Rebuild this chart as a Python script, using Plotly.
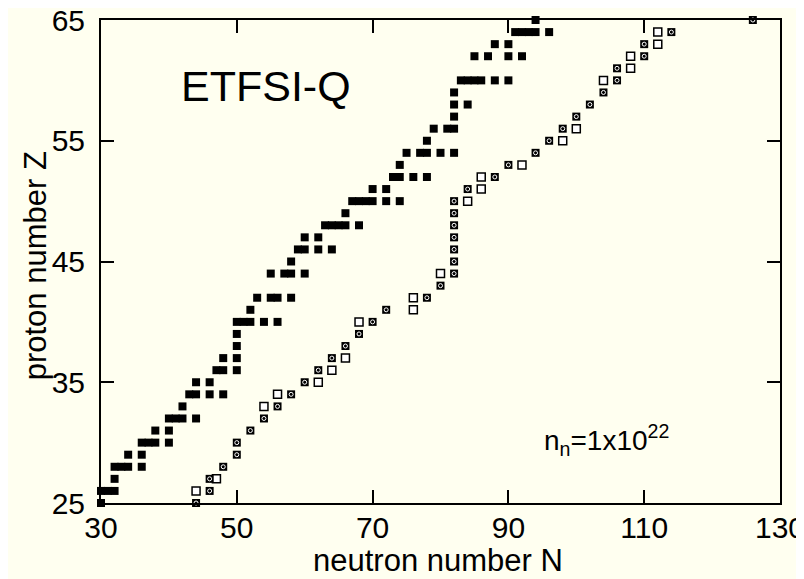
import plotly.graph_objects as go

# Filled squares (neutron number N, proton number Z)
filled_Z = [25,
            26, 26, 26,
            27,
            28, 28, 28, 28,
            29, 29,
            30, 30, 30, 30,
            31, 31,
            32, 32, 32, 32,
            33,
            34, 34, 34, 34,
            35, 35,
            36, 36, 36,
            37, 37,
            38,
            39,
            40, 40, 40, 40, 40,
            41,
            42, 42, 42, 42,
            44, 44, 44, 44,
            45,
            46, 46, 46, 46,
            47, 47,
            48, 48, 48, 48, 48,
            49,
            50, 50, 50, 50, 50, 50,
            51, 51,
            52, 52, 52, 52,
            53,
            54, 54, 54, 54, 54,
            55,
            56, 56, 56,
            57,
            58, 58,
            59,
            60, 60, 60, 60, 60, 60,
            62, 62, 62, 62,
            63, 63,
            64, 64, 64, 64, 64,
            65]
filled_N = [30,
            30, 31, 32,
            32,
            32, 33, 34, 36,
            34, 36,
            36, 37, 38, 40,
            38, 40,
            40, 41, 42, 44,
            42,
            43, 44, 46, 48,
            44, 46,
            47, 48, 50,
            48, 50,
            50,
            50,
            50, 51, 52, 54, 56,
            52,
            53, 55, 56, 58,
            55, 57, 58, 60,
            58,
            59, 60, 62, 64,
            60, 62,
            63, 64, 65, 66, 68,
            66,
            67, 68, 69, 70, 72, 74,
            70, 72,
            73, 74, 76, 78,
            74,
            75, 77, 78, 80, 82,
            78,
            79, 81, 82,
            82,
            82, 84,
            82,
            83, 84, 85, 86, 88, 90,
            85, 87, 90, 92,
            88, 90,
            91, 92, 93, 94, 96,
            94]

# Crossed squares
crossed_Z = [25, 26, 27, 28, 29, 30, 31, 32, 33, 34, 35, 36, 37, 38, 39, 40,
             41, 42, 43, 44, 45, 46, 47, 48, 49, 50, 51, 52, 53, 54, 55, 56,
             57, 58, 59, 60, 61, 62, 63, 64, 65]
crossed_N = [44, 46, 46, 48, 50, 50, 52, 54, 56, 58, 60, 62, 64, 66, 68, 70,
             72, 78, 80, 82, 82, 82, 82, 82, 82, 82, 84, 88, 90, 94, 96, 98,
             100, 102, 104, 106, 106, 110, 110, 114, 126]

# Open squares
open_Z = [26, 27, 33, 34, 35, 36, 37, 40, 41, 42, 44, 50, 51, 52, 53, 55, 56,
          60, 61, 62, 63, 64]
open_N = [44, 47, 54, 56, 62, 64, 66, 68, 76, 76, 80, 84, 86, 86, 92, 98, 100,
          104, 108, 108, 112, 112]

x_ticks = [30, 50, 70, 90, 110, 130]
y_ticks = [25, 35, 45, 55, 65]

BG = "#fffff0"
FONT = "Liberation Sans"

fig = go.Figure()
fig.add_trace(go.Scatter(x=filled_N, y=filled_Z, mode="markers", name="filled",
                         marker=dict(symbol="square", size=8, color="black",
                                     line=dict(width=0)),
                         cliponaxis=False, showlegend=False))
fig.add_trace(go.Scatter(x=open_N, y=open_Z, mode="markers", name="open",
                         marker=dict(symbol="square", size=8, color="white",
                                     line=dict(width=1.5, color="black")),
                         cliponaxis=False, showlegend=False))
fig.add_trace(go.Scatter(x=crossed_N, y=crossed_Z, mode="markers", name="crossed",
                         marker=dict(symbol="square", size=8, color="black",
                                     line=dict(width=0)),
                         cliponaxis=False, showlegend=False))
fig.add_trace(go.Scatter(x=crossed_N, y=crossed_Z, mode="markers", name="crossed-dot",
                         marker=dict(symbol="circle-open", size=4, color="white",
                                     line=dict(width=1, color="white")),
                         cliponaxis=False, showlegend=False, hoverinfo="skip"))

axis_common = dict(showline=True, linecolor="black", linewidth=2, mirror="ticks",
                   ticks="inside", ticklen=13, tickwidth=1.5, tickcolor="black",
                   showgrid=False, zeroline=False, automargin=False,
                   ticklabeloverflow="allow",
                   tickfont=dict(family=FONT, size=30, color="black"))

fig.update_xaxes(range=[30, 130], tickvals=x_ticks, ticklabelstandoff=-3,
                 **axis_common)
fig.update_yaxes(range=[25, 65], tickvals=y_ticks, ticklabelstandoff=8,
                 **axis_common)

# axis titles
fig.add_annotation(x=0.496, y=0, xref="paper", yref="paper",
                   text="neutron number N", showarrow=False,
                   xanchor="center", yanchor="middle", yshift=-57,
                   font=dict(family=FONT, size=31, color="black"))
fig.add_annotation(x=0, y=0.49, xref="paper", yref="paper",
                   text="proton number Z", showarrow=False, textangle=-90,
                   xanchor="center", yanchor="middle", xshift=-66,
                   font=dict(family=FONT, size=31, color="black"))

fig.add_annotation(x=41.5, y=59.5, xref="x", yref="y", text="ETFSI-Q",
                   showarrow=False, xanchor="left", yanchor="middle",
                   font=dict(family=FONT, size=43, color="black"))
fig.add_annotation(x=95.0, y=30.2, xref="x", yref="y",
                   text="n<sub>n</sub>=1x10<sup>22</sup>",
                   showarrow=False, xanchor="left", yanchor="middle",
                   font=dict(family=FONT, size=28, color="black"))

fig.update_layout(width=804, height=579,
                  margin=dict(l=93, r=32, t=12, b=84),
                  paper_bgcolor=BG, plot_bgcolor=BG,
                  font=dict(family=FONT, color="black"))

fig.write_html("out.html")
